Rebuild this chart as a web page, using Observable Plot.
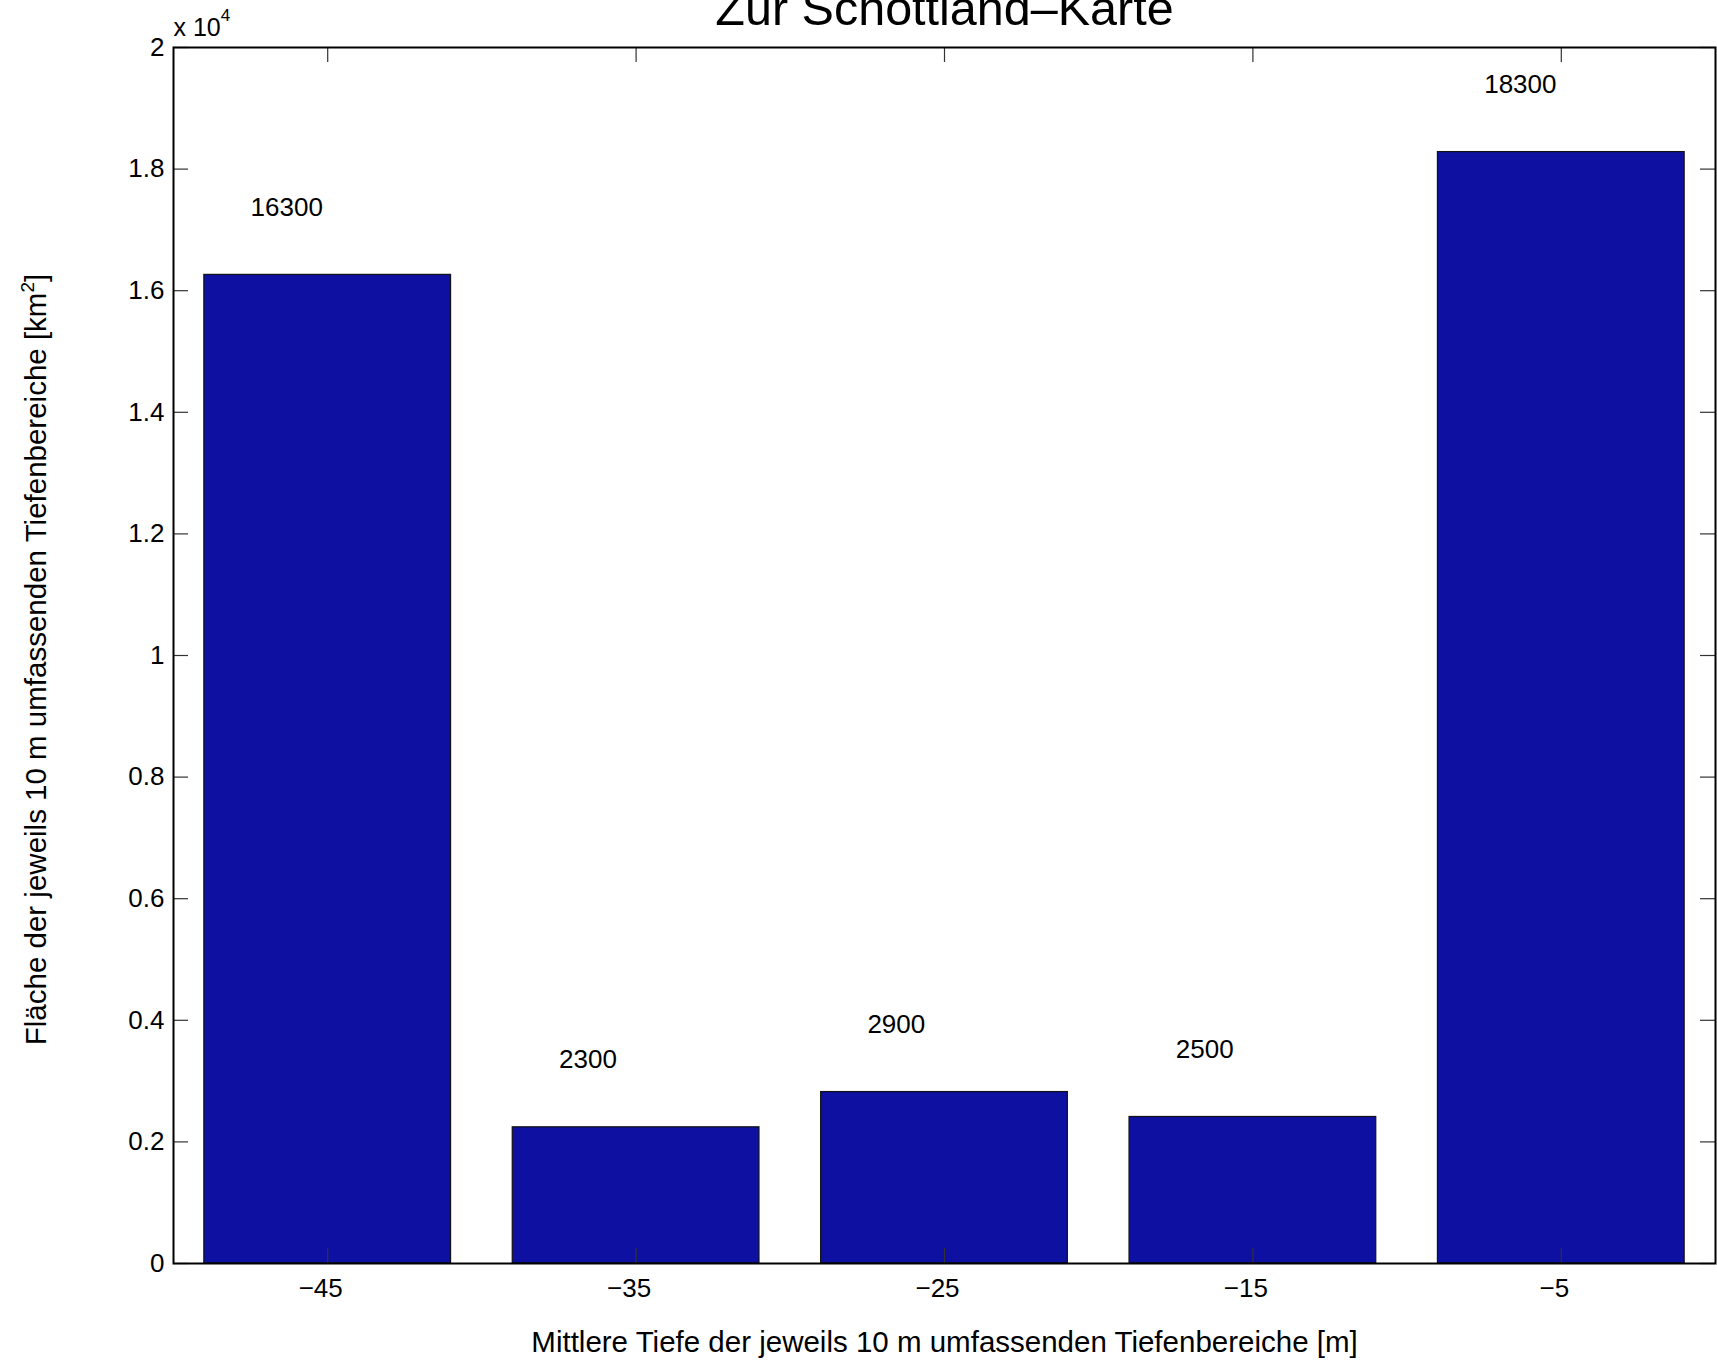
<!DOCTYPE html>
<html>
<head>
<meta charset="utf-8">
<script src="https://cdn.jsdelivr.net/npm/d3@7"></script>
<script src="https://cdn.jsdelivr.net/npm/@observablehq/plot@0.6"></script>
<style>
  body { margin: 0; background: #fff; }
  svg { display: block; }
</style>
</head>
<body>
<div id="chart"></div>
<script>
// ---- data ----
const depths = [-45, -35, -25, -15, -5];
const areas = [16260, 2240, 2820, 2410, 18280];
const barLabels = ["16300", "2300", "2900", "2500", "18300"];
const xTicks = [-45, -35, -25, -15, -5];
const xTickLabels = ["\u221245", "\u221235", "\u221225", "\u221215", "\u22125"];
const yTicks = [0, 2000, 4000, 6000, 8000, 10000, 12000, 14000, 16000, 18000, 20000];
const yTickLabels = ["0", "0.2", "0.4", "0.6", "0.8", "1", "1.2", "1.4", "1.6", "1.8", "2"];
const titleText = "Zur Schottland\u2013Karte";
const xLabel = "Mittlere Tiefe der jeweils 10 m umfassenden Tiefenbereiche [m]";
const yLabel = "Fl\u00e4che der jeweils 10 m umfassenden Tiefenbereiche [km";
const exponentBase = "x 10";

// ---- layout ----
const W = 1717, H = 1364;
const mL = 173, mR = 2, mT = 47, mB = 101;
const innerW = W - mL - mR, innerH = H - mT - mB;
const tickLen = 15;
const barHalf = 4;      // bar width 0.8 of 10 m spacing
const labelShift = 2.5; // label starts 2.5 m left of bar centre

const table = depths.map((d, i) => ({depth: d, area: areas[i], label: barLabels[i]}));
const yt = yTicks.map((v, i) => ({v, t: yTickLabels[i]}));
const xt = xTicks.map((v, i) => ({v, t: xTickLabels[i]}));

const svg = Plot.plot({
  width: W, height: H,
  marginLeft: mL, marginRight: mR, marginTop: mT, marginBottom: mB,
  style: {fontFamily: "'Liberation Sans', Arial, Helvetica, sans-serif", fontSize: "26px", background: "white", color: "black"},
  x: {domain: [-50, 0], axis: null},
  y: {domain: [0, 20000], axis: null},
  marks: [
    Plot.rectY(table, {x1: d => d.depth - barHalf, x2: d => d.depth + barHalf, y1: 0, y2: "area",
      fill: "#0d10a0", stroke: "#111", strokeWidth: 1.2}),
    Plot.text(table, {x: d => d.depth - labelShift, y: d => d.area + 970, text: "label",
      textAnchor: "start", lineAnchor: "bottom", fontSize: 26, fill: "black"}),
    // inward ticks on all four sides
    Plot.tickX(xTicks, {x: d => d, insetTop: innerH - tickLen, stroke: "#333", strokeWidth: 1.2}),
    Plot.tickX(xTicks, {x: d => d, insetBottom: innerH - tickLen, stroke: "#333", strokeWidth: 1.2}),
    Plot.tickY(yTicks, {y: d => d, insetRight: innerW - tickLen, stroke: "#333", strokeWidth: 1.2}),
    Plot.tickY(yTicks, {y: d => d, insetLeft: innerW - tickLen, stroke: "#333", strokeWidth: 1.2}),
    Plot.frame({stroke: "black", strokeWidth: 2}),
    // tick labels
    Plot.text(xt, {x: "v", text: "t", frameAnchor: "bottom", dx: -7, dy: 25, lineAnchor: "middle", fontSize: 26, fill: "black"}),
    Plot.text(yt, {y: "v", text: "t", frameAnchor: "left", dx: -9, textAnchor: "end", lineAnchor: "middle", fontSize: 26, fill: "black"}),
    // axis labels
    Plot.text([xLabel], {text: d => d, frameAnchor: "bottom", dy: 79, lineAnchor: "middle", fontSize: 29.5, fill: "black"}),
    Plot.text([yLabel], {text: d => d, frameAnchor: "left", textAnchor: "middle", dx: -137, dy: 4, rotate: -90, lineAnchor: "middle", fontSize: 29.5, fill: "black"}),
    // exponent
    Plot.text([exponentBase], {text: d => d, frameAnchor: "top-left", textAnchor: "start", lineAnchor: "bottom", dy: -12, fontSize: 25, fill: "black"}),
    // title
    Plot.text([titleText], {text: d => d, frameAnchor: "top", lineAnchor: "bottom", dy: -23, fontSize: 48.5, fill: "black"})
  ]
});

// superscripts
d3.select(svg).selectAll("text").filter(function() { return this.textContent === exponentBase; })
  .each(function() {
    const t = d3.select(this);
    t.append("tspan").attr("dy", -15).attr("font-size", 17).text("4");
  });
d3.select(svg).selectAll("text").filter(function() { return this.textContent === yLabel; })
  .each(function() {
    const t = d3.select(this);
    t.append("tspan").attr("dy", -12).attr("font-size", 19).text("2");
    t.append("tspan").attr("dy", 12).text("]");
  });

document.getElementById("chart").appendChild(svg);
</script>
</body>
</html>
